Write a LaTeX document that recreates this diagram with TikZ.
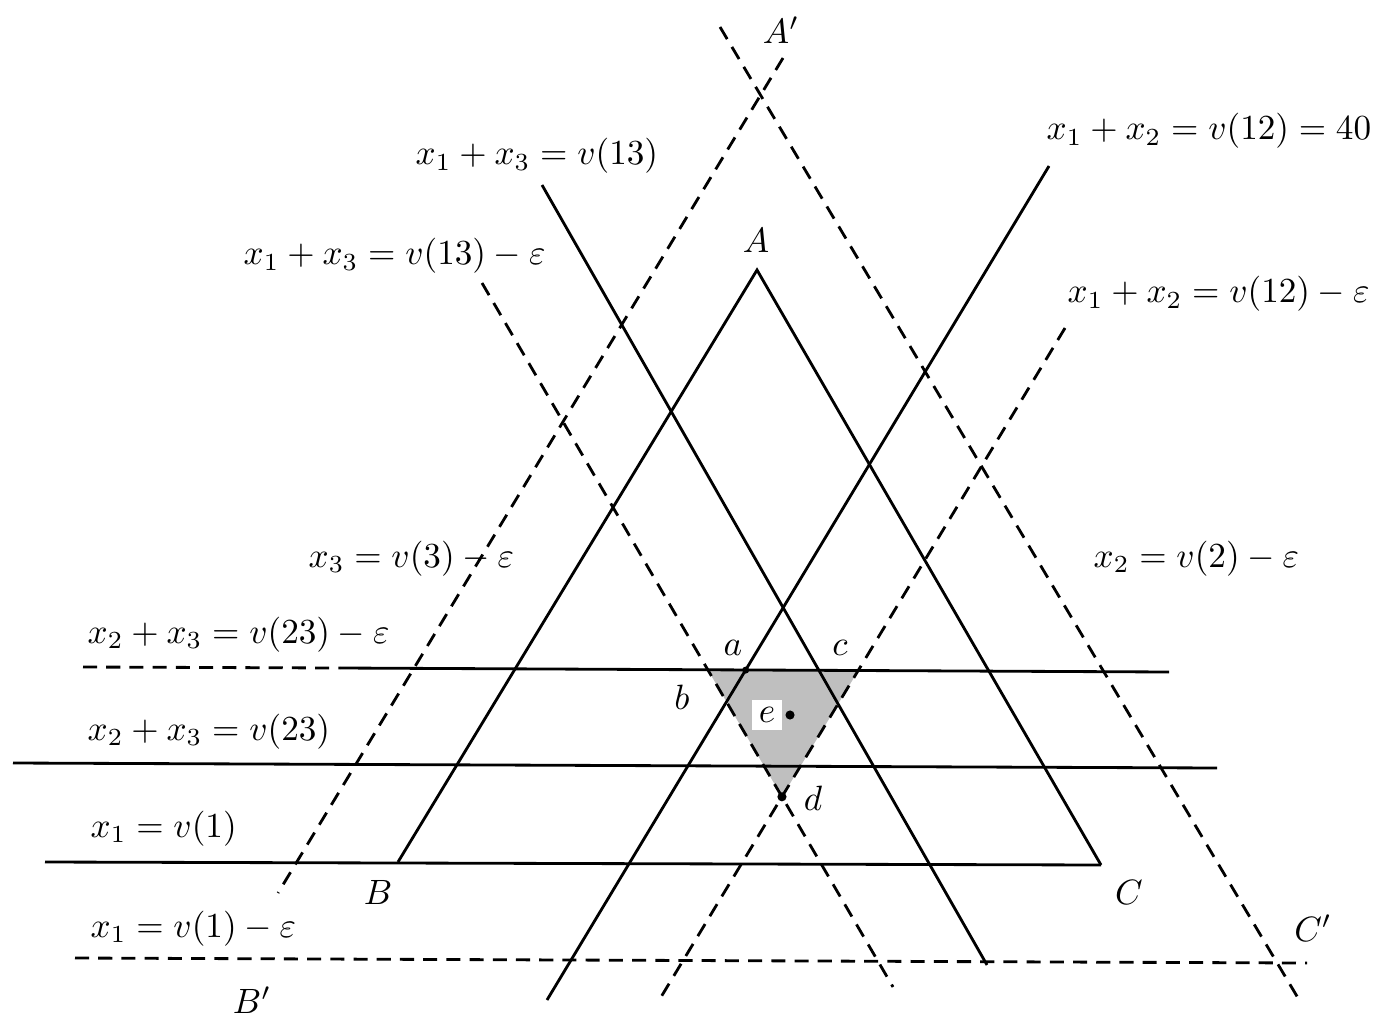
\documentclass[tikz,border=0pt]{standalone}
\usetikzlibrary{positioning}
\begin{document}
\begin{tikzpicture}[x=0.01cm,y=-0.01cm,
    solidline/.style={line width=0.8pt},
    dashline/.style={line width=0.8pt,dash pattern=on 4pt off 2.6pt},
    lbl/.style={inner sep=0pt,anchor=base west},
    pname/.style={inner sep=0pt}]
  \useasboundingbox (0,0) rectangle (1374,1019);
  % corner points
  \coordinate (A) at (757,270);
  \coordinate (B) at (398,862);
  \coordinate (C) at (1101,865);
  % end points of the lines
  \coordinate (h1L) at (83,667);   \coordinate (h1M) at (340,668);  \coordinate (h1R) at (1169,672);
  \coordinate (h2L) at (13,763);   \coordinate (h2R) at (1217,768);
  \coordinate (h3L) at (45,862);
  \coordinate (h4L) at (75,958);   \coordinate (h4R) at (1307,963);
  \coordinate (s13T) at (542,185); \coordinate (s13B) at (987,965);
  \coordinate (s12T) at (1049,166);\coordinate (s12B) at (547,1000);
  \coordinate (e13T) at (482,283); \coordinate (e13B) at (893,987);
  \coordinate (e12T) at (1065,328);\coordinate (e12B) at (658,1002);
  \coordinate (e3T) at (783,58);   \coordinate (e3B) at (278,893);
  \coordinate (e2T) at (720,27);   \coordinate (e2B) at (1298,998);
  % core
  \coordinate (k1) at (intersection of h1L--h1R and e13T--e13B);
  \coordinate (k2) at (intersection of h1L--h1R and e12T--e12B);
  \coordinate (d) at (intersection of e13T--e13B and e12T--e12B);
  \coordinate (a) at (intersection of h1L--h1R and s12T--s12B);
  \fill[gray!50] (k1) -- (k2) -- (d) -- cycle;
  % horizontal lines
  \draw[dashline] (h1L) -- (h1M);
  \draw[solidline] (h1M) -- (h1R);
  \draw[solidline] (h2L) -- (h2R);
  \draw[solidline] (h3L) -- (C);
  \draw[dashline] (h4L) -- (h4R);
  % triangle ABC
  \draw[solidline] (B) -- (A) -- (C);
  % solid slopes
  \draw[solidline] (s13T) -- (s13B);
  \draw[solidline] (s12T) -- (s12B);
  % dashed slopes
  \draw[dashline] (e13T) -- (e13B);
  \draw[dashline] (e12T) -- (e12B);
  \draw[dashline] (e3T) -- (e3B);
  \draw[dashline] (e2T) -- (e2B);
  % points
  \node[pname,fill=white,inner sep=2pt] (le) at (767,715) {$e$};
  \coordinate (edot) at (790,715);
  \fill (edot) circle (1.3pt);
  \fill (d) circle (1.3pt);
  \fill (a) circle (1pt);
  \node[pname] (la) at (733,648) {$a$};
  \node[pname] (lb) at (682,697) {$b$};
  \node[pname] (lc) at (840,648) {$c$};
  \node[pname] (ld) at (813,798) {$d$};
  \node[pname] (lA) at (756,240) {$A$};
  \node[pname] (lAp) at (781,30) {$A'$};
  \node[pname] (lB) at (378,892) {$B$};
  \node[pname] (lBp) at (252,1000) {$B'$};
  \node[pname] (lC) at (1129,892) {$C$};
  \node[pname] (lCp) at (1313,928) {$C'$};
  % line labels
  \node[lbl] (t13) at (415,165) {$x_1+x_3=v(13)$};
  \node[lbl] (t13e) at (243,265) {$x_1+x_3=v(13)-\varepsilon$};
  \node[lbl] (t12) at (1046,140) {$x_1+x_2=v(12)=40$};
  \node[lbl] (t12e) at (1067,303) {$x_1+x_2=v(12)-\varepsilon$};
  \node[lbl] (t3e) at (308,567) {$x_3=v(3)-\varepsilon$};
  \node[lbl] (t2e) at (1093,567) {$x_2=v(2)-\varepsilon$};
  \node[lbl] (t23e) at (87,643) {$x_2+x_3=v(23)-\varepsilon$};
  \node[lbl] (t23) at (87,740) {$x_2+x_3=v(23)$};
  \node[lbl] (t1) at (90,837) {$x_1=v(1)$};
  \node[lbl] (t1e) at (90,937) {$x_1=v(1)-\varepsilon$};
\end{tikzpicture}
\end{document}
